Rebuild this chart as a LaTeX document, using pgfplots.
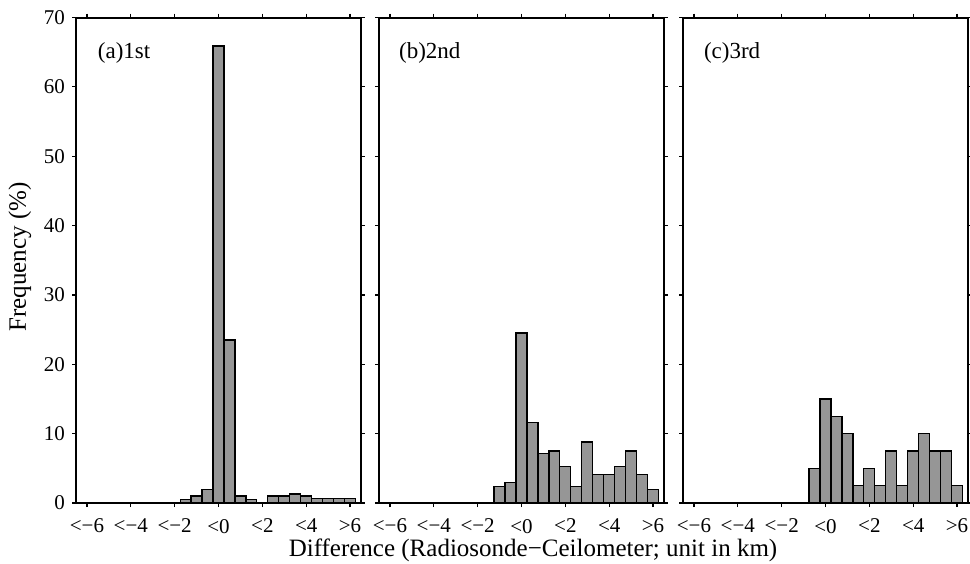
\documentclass[border=0pt]{standalone}
\usepackage{pgfplots}
\pgfplotsset{compat=1.18}
\usepackage{fontspec}
\setmainfont{Liberation Serif}
\definecolor{barfill}{RGB}{150,150,150}
\pgfplotsset{
  panel/.style={
    scale only axis,
    width=142.5pt, height=242.75pt,
    anchor=south west,
    xmin=-1, xmax=25, ymin=0, ymax=70,
    xtick={0,4,8,12,16,20,24},
    xticklabels={<−6,<−4,<−2,<0,<2,<4,>6},
    ytick={0,10,20,30,40,50,60,70},
    tick align=outside,
    major tick length=2pt,
    every tick/.style={black, line width=0.6pt},
    axis line style={line width=1pt},
    tick label style={font=\fontsize{10.5}{12}\selectfont},
    xticklabel style={yshift=-2.5pt},
    /pgf/number format/assume math mode=true,
    xticklabel pos=lower,
    yticklabel pos=left,
    xtick pos=both, ytick pos=both,
    ybar, bar width=1, bar shift=0pt,
    clip=false,
  },
  barstyle/.style={fill=barfill, draw=black, line width=0.6pt},
}
\begin{document}
\begin{tikzpicture}
\path[use as bounding box] (0,0) rectangle (485pt,281.5pt);
% panel a
\begin{axis}[panel, at={(38pt,30pt)}]
\addplot[barstyle] coordinates {(9,0.5) (10,1.0) (11,2.0) (12,65.9) (13,23.5) (14,1.0) (15,0.5) (17,1.0) (18,1.0) (19,1.3) (20,1.0) (21,0.6) (22,0.6) (23,0.6) (24,0.6)};
\node[anchor=west, font=\fontsize{11.5}{13}\selectfont] at (rel axis cs:0.052,0.928) {(a)1st};
\end{axis}
% panel b
\begin{axis}[panel, at={(189.5pt,30pt)}, yticklabels={}]
\addplot[barstyle] coordinates {(10,2.4) (11,3.0) (12,24.5) (13,11.6) (14,7.1) (15,7.5) (16,5.3) (17,2.4) (18,8.8) (19,4.1) (20,4.1) (21,5.3) (22,7.5) (23,4.1) (24,1.9)};
\node[anchor=west, font=\fontsize{11.5}{13}\selectfont] at (rel axis cs:0.046,0.928) {(b)2nd};
\end{axis}
% panel c
\begin{axis}[panel, at={(341.5pt,30pt)}, yticklabels={}]
\addplot[barstyle] coordinates {(11,5.0) (12,15.0) (13,12.5) (14,10.0) (15,2.5) (16,5.0) (17,2.5) (18,7.5) (19,2.5) (20,7.5) (21,10.0) (22,7.5) (23,7.5) (24,2.5)};
\node[anchor=west, font=\fontsize{11.5}{13}\selectfont] at (rel axis cs:0.049,0.928) {(c)3rd};
\end{axis}
\node[font=\fontsize{12.5}{15}\selectfont] at (266.5pt,6.5pt) {Difference (Radiosonde−Ceilometer; unit in km)};
\node[font=\fontsize{12.5}{15}\selectfont, rotate=90] at (10pt,153pt) {Frequency (\%)};
\end{tikzpicture}
\end{document}
